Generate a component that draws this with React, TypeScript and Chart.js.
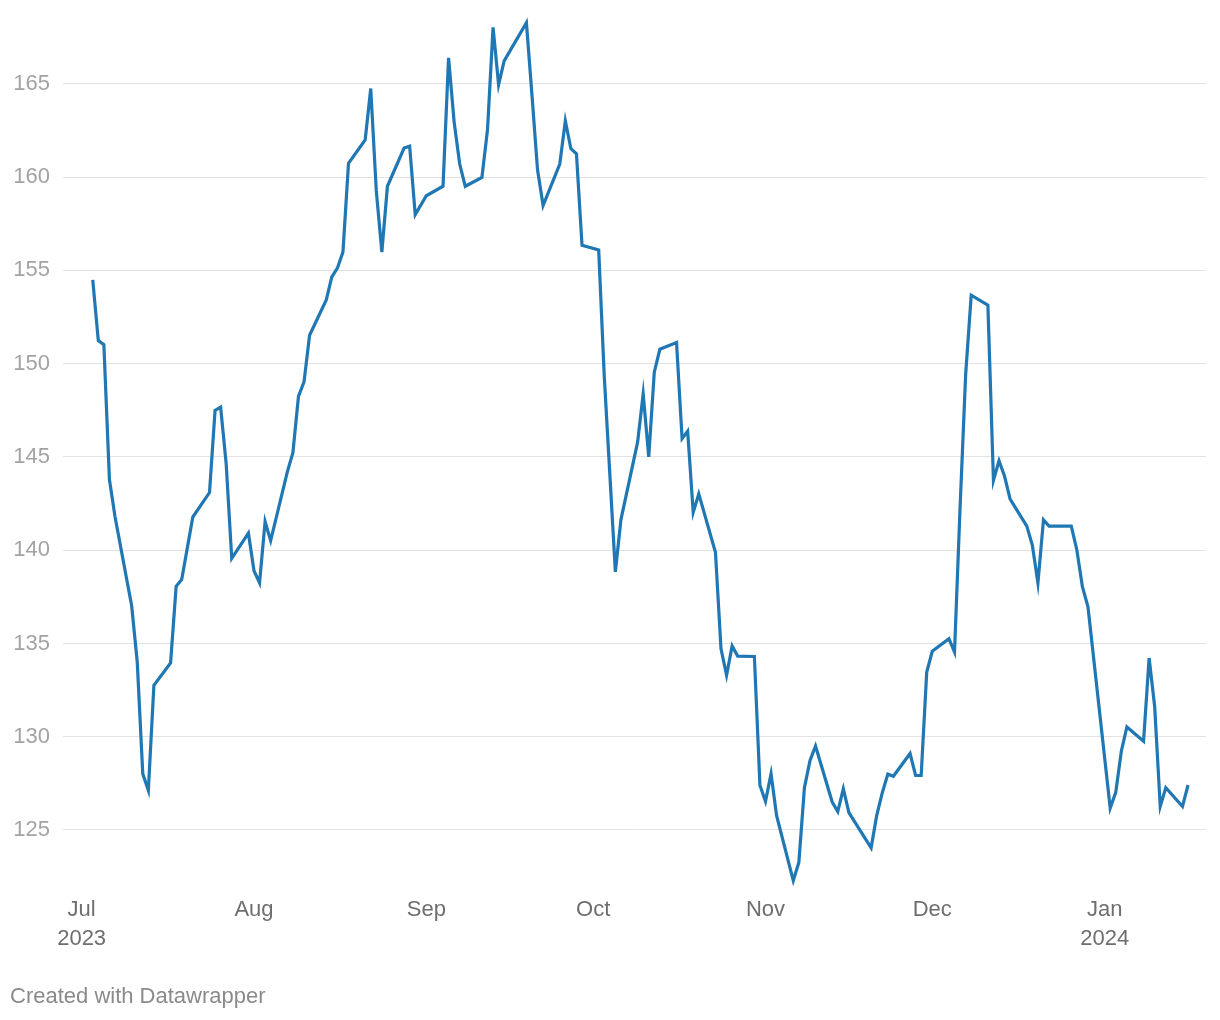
import React, { useEffect, useRef } from "react";
import { Chart, registerables } from "chart.js";

Chart.register(...registerables);

// Trading dates and closing values
const dates: string[] = [
  "2023-07-03", "2023-07-04", "2023-07-05", "2023-07-06", "2023-07-07",
  "2023-07-10", "2023-07-11", "2023-07-12", "2023-07-13", "2023-07-14",
  "2023-07-17", "2023-07-18", "2023-07-19", "2023-07-21",
  "2023-07-24", "2023-07-25", "2023-07-26", "2023-07-27", "2023-07-28",
  "2023-07-31", "2023-08-01", "2023-08-02", "2023-08-03", "2023-08-04",
  "2023-08-07", "2023-08-08", "2023-08-09", "2023-08-10", "2023-08-11",
  "2023-08-14", "2023-08-15", "2023-08-16", "2023-08-17", "2023-08-18",
  "2023-08-21", "2023-08-22", "2023-08-23", "2023-08-24", "2023-08-25",
  "2023-08-28", "2023-08-29", "2023-08-30", "2023-09-01",
  "2023-09-04", "2023-09-05", "2023-09-06", "2023-09-07", "2023-09-08",
  "2023-09-11", "2023-09-12", "2023-09-13", "2023-09-14", "2023-09-15",
  "2023-09-19", "2023-09-20", "2023-09-21", "2023-09-22",
  "2023-09-25", "2023-09-26", "2023-09-27", "2023-09-28", "2023-09-29",
  "2023-10-02", "2023-10-03", "2023-10-05", "2023-10-06",
  "2023-10-09", "2023-10-10", "2023-10-11", "2023-10-12", "2023-10-13",
  "2023-10-16", "2023-10-17", "2023-10-18", "2023-10-19", "2023-10-20",
  "2023-10-23", "2023-10-24", "2023-10-25", "2023-10-26", "2023-10-27",
  "2023-10-30", "2023-10-31", "2023-11-01", "2023-11-02", "2023-11-03",
  "2023-11-06", "2023-11-07", "2023-11-08", "2023-11-09", "2023-11-10",
  "2023-11-13", "2023-11-14", "2023-11-15", "2023-11-16",
  "2023-11-20", "2023-11-21", "2023-11-22", "2023-11-23", "2023-11-24",
  "2023-11-27", "2023-11-28", "2023-11-29", "2023-11-30", "2023-12-01",
  "2023-12-04", "2023-12-05", "2023-12-06", "2023-12-07", "2023-12-08",
  "2023-12-11", "2023-12-12", "2023-12-13", "2023-12-14", "2023-12-15",
  "2023-12-18", "2023-12-19", "2023-12-20", "2023-12-21", "2023-12-22",
  "2023-12-26", "2023-12-27", "2023-12-28", "2023-12-29",
  "2024-01-02", "2024-01-03", "2024-01-04", "2024-01-05",
  "2024-01-08", "2024-01-09", "2024-01-10", "2024-01-11", "2024-01-12",
  "2024-01-15", "2024-01-16",
];

const prices: number[] = [
  154.49, 151.24, 151.02, 143.79, 141.81,
  137.02, 134.02, 128.01, 127.13, 132.76,
  133.96, 138.06, 138.43, 141.78,
  143.09, 147.49, 147.67, 144.63, 139.56,
  140.91, 138.9, 138.25, 141.53, 140.51,
  144.2, 145.23, 148.24, 149.02, 151.52,
  153.42, 154.65, 155.12, 155.98, 160.74,
  161.99, 164.75, 159.26, 155.98, 159.51,
  161.56, 161.66, 157.99, 159.0,
  159.51, 166.39, 162.95, 160.7, 159.51,
  159.98, 162.54, 168.03, 164.96, 166.23,
  168.28, 164.39, 160.39, 158.48,
  160.7, 163.01, 161.52, 161.25, 156.35,
  156.09, 149.33, 138.84, 141.64,
  145.79, 148.38, 145.0, 149.54, 150.77,
  151.13, 145.98, 146.38, 142.03, 143.02,
  139.89, 134.71, 133.29, 134.87, 134.32,
  134.3, 127.4, 126.53, 128.01, 125.77,
  122.29, 123.26, 127.26, 128.72, 129.5,
  126.5, 125.99, 127.21, 125.93,
  124.04, 125.77, 126.99, 127.99, 127.88,
  129.1, 127.92, 127.92, 133.47, 134.58,
  135.25, 134.54, 142.3, 149.41, 153.67,
  153.14, 143.74, 144.79, 143.96, 142.74,
  141.29, 140.26, 138.24, 141.63, 141.29,
  141.29, 140.01, 138.04, 136.96,
  126.17, 127.02, 129.22, 130.52,
  129.76, 134.22, 131.61, 126.26, 127.27,
  126.26, 127.41,
];

const monthTickDates: string[] = [
  "2023-07-01", "2023-08-01", "2023-09-01", "2023-10-01",
  "2023-11-01", "2023-12-01", "2024-01-01",
];
const monthTickLabels: (string | string[])[] = [
  ["Jul", "2023"], "Aug", "Sep", "Oct", "Nov", "Dec", ["Jan", "2024"],
];
const yTicks: number[] = [125, 130, 135, 140, 145, 150, 155, 160, 165];

const footerText = "Created with Datawrapper";

const ORIGIN = Date.UTC(2023, 6, 1);
const dayNum = (s: string) => {
  const [y, m, d] = s.split("-").map(Number);
  return (Date.UTC(y, m - 1, d) - ORIGIN) / 86400000;
};

const FONT = '"Liberation Sans", Arial, Helvetica, sans-serif';

export default function App() {
  const ref = useRef<HTMLCanvasElement | null>(null);

  useEffect(() => {
    document.body.style.margin = "0";
    const canvas = ref.current;
    if (!canvas) return;

    const footerPlugin = {
      id: "footer",
      afterDraw(chart: any) {
        const ctx = chart.ctx;
        ctx.save();
        ctx.font = `22px ${FONT}`;
        ctx.fillStyle = "#8a8a8a";
        ctx.textBaseline = "middle";
        ctx.textAlign = "left";
        ctx.fillText(footerText, 10, 997);
        ctx.restore();
      },
    };

    const chart = new Chart(canvas, {
      type: "line",
      data: {
        datasets: [
          {
            data: dates.map((d, i) => ({ x: dayNum(d), y: prices[i] })),
            borderColor: "#1f77b4",
            borderWidth: 3.2,
            pointRadius: 0,
            pointHoverRadius: 0,
            tension: 0,
            fill: false,
            clip: false as any,
          },
        ],
      },
      options: {
        animation: false,
        responsive: false,
        maintainAspectRatio: false,
        layout: { padding: { top: 21, right: 14, left: 0, bottom: 0 } },
        plugins: {
          legend: { display: false },
          tooltip: { enabled: false },
        },
        scales: {
          x: {
            type: "linear",
            min: -3.35,
            max: 202.23,
            border: { display: false },
            grid: { display: false, drawTicks: false },
            afterBuildTicks(scale: any) {
              scale.ticks = monthTickDates.map((d) => ({ value: dayNum(d) }));
            },
            afterFit(scale: any) {
              scale.height = 135;
              scale.paddingLeft = 0;
              scale.paddingRight = 0;
            },
            ticks: {
              autoSkip: false,
              maxRotation: 0,
              padding: 10,
              color: "#6e6e6e",
              font: { family: FONT, size: 22, lineHeight: 1.318 },
              callback: (_v: any, i: number) => monthTickLabels[i],
            },
          },
          y: {
            type: "linear",
            min: 122.05,
            max: 168.37,
            border: { display: false },
            grid: { color: "#e2e2e2", lineWidth: 1, drawTicks: false },
            afterBuildTicks(scale: any) {
              scale.ticks = yTicks.map((v) => ({ value: v }));
            },
            afterFit(scale: any) {
              scale.width = 63;
              scale.paddingTop = 0;
              scale.paddingBottom = 0;
            },
            ticks: {
              padding: 13,
              color: "#a3a3a3",
              font: { family: FONT, size: 22 },
              callback: (v: any) => String(v),
            },
          },
        },
      },
      plugins: [footerPlugin],
    });

    return () => chart.destroy();
  }, []);

  return (
    <div style={{ width: 1220, height: 1020, background: "#fff" }}>
      <canvas ref={ref} width={1220} height={1020} style={{ display: "block" }} />
    </div>
  );
}
